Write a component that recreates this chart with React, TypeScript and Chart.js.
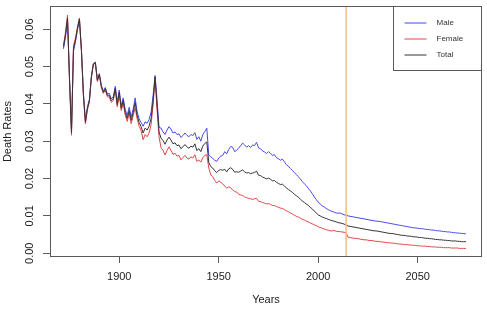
import { useEffect, useRef } from "react";
import { Chart, registerables } from "chart.js";

Chart.register(...registerables);

// ---------- data ----------
const FIRST_YEAR = 1872;
const LAST_YEAR = 2074;
const forecastStartLine = 2014;
const xTicks = [1900, 1950, 2000, 2050];
const yTicks = [0, 0.01, 0.02, 0.03, 0.04, 0.05, 0.06];
const seriesNames = ["Male", "Female", "Total"];

const years: number[] = [];
for (let y = FIRST_YEAR; y <= LAST_YEAR; y++) years.push(y);

const maleRates = [
  0.0548, 0.0580, 0.0622, 0.0470, 0.0330, 0.0540, 0.0566, 0.0598, 0.0624, 0.0545,
  0.0428, 0.0356, 0.0392, 0.0412, 0.0474, 0.0508, 0.0512, 0.0466, 0.0481, 0.0450,
  0.0434, 0.0444, 0.0427, 0.0428, 0.0414, 0.0419, 0.0447, 0.0404, 0.0437, 0.0395,
  0.0416, 0.0385, 0.0369, 0.0391, 0.0365, 0.0386, 0.0416, 0.0378, 0.0360, 0.0350,
  0.0340, 0.0352, 0.0348, 0.0358, 0.0378, 0.0422, 0.0476, 0.0410, 0.0337, 0.0335,
  0.0325, 0.0318, 0.0330, 0.0339, 0.0332, 0.0322, 0.0325, 0.0318, 0.0320, 0.0310,
  0.0315, 0.0322, 0.0316, 0.0312, 0.0318, 0.0315, 0.0323, 0.0305, 0.0312, 0.0300,
  0.0318, 0.0326, 0.0335, 0.0263, 0.0258, 0.0254, 0.0249, 0.0246, 0.0255, 0.0260,
  0.0262, 0.0272, 0.0266, 0.0278, 0.0286, 0.0284, 0.0272, 0.0276, 0.0281, 0.0288,
  0.0295, 0.0290, 0.0284, 0.0288, 0.0283, 0.0290, 0.0288, 0.0297, 0.0282, 0.0280,
  0.0274, 0.0271, 0.0267, 0.0272, 0.0268, 0.0262, 0.0264, 0.0256, 0.0253, 0.0249,
  0.0252, 0.0245, 0.0237, 0.0233, 0.0227, 0.0222, 0.0216, 0.0211, 0.0205, 0.0199,
  0.0192, 0.0186, 0.0181, 0.0174, 0.0167, 0.0160, 0.0151, 0.0144, 0.0137, 0.0132,
  0.0127, 0.0124, 0.0120, 0.0117, 0.0114, 0.0112, 0.0110, 0.0108, 0.0107, 0.0108,
  0.0105, 0.0103, 0.0102,
  0.0100, 0.0099, 0.0098, 0.0097, 0.0096, 0.0095, 0.0094, 0.0093, 0.0092, 0.0091,
  0.0090, 0.0089, 0.0088, 0.0087, 0.0086, 0.0086, 0.0085, 0.0084, 0.0083, 0.0082,
  0.0081, 0.0080, 0.0079, 0.0078, 0.0077, 0.0076, 0.0075, 0.0074, 0.0073, 0.0072,
  0.0071, 0.0070, 0.0069, 0.0068, 0.0068, 0.0067, 0.0066, 0.0066, 0.0065, 0.0064,
  0.0064, 0.0063, 0.0062, 0.0062, 0.0061, 0.0060, 0.0060, 0.0059, 0.0058, 0.0058,
  0.0057, 0.0057, 0.0056, 0.0055, 0.0055, 0.0054, 0.0054, 0.0053, 0.0053, 0.0052,
];

const femaleRates = [
  0.0558, 0.0592, 0.0638, 0.0462, 0.0316, 0.0556, 0.0576, 0.0606, 0.0630, 0.0540,
  0.0420, 0.0346, 0.0384, 0.0405, 0.0470, 0.0506, 0.0508, 0.0460, 0.0476, 0.0444,
  0.0428, 0.0437, 0.0419, 0.0418, 0.0404, 0.0409, 0.0437, 0.0392, 0.0425, 0.0382,
  0.0402, 0.0370, 0.0353, 0.0374, 0.0347, 0.0368, 0.0390, 0.0360, 0.0340, 0.0328,
  0.0304, 0.0318, 0.0312, 0.0322, 0.0344, 0.0396, 0.0468, 0.0384, 0.0312, 0.0282,
  0.0276, 0.0263, 0.0275, 0.0285, 0.0276, 0.0265, 0.0268, 0.0260, 0.0262, 0.0250,
  0.0256, 0.0262, 0.0255, 0.0252, 0.0258, 0.0255, 0.0264, 0.0246, 0.0250, 0.0244,
  0.0256, 0.0262, 0.0264, 0.0228, 0.0210, 0.0205, 0.0195, 0.0188, 0.0194, 0.0190,
  0.0186, 0.0180, 0.0174, 0.0178, 0.0175, 0.0170, 0.0165, 0.0164, 0.0158, 0.0156,
  0.0155, 0.0151, 0.0149, 0.0147, 0.0146, 0.0144, 0.0146, 0.0147, 0.0139, 0.0138,
  0.0136, 0.0134, 0.0132, 0.0133, 0.0131, 0.0128, 0.0128, 0.0125, 0.0123, 0.0121,
  0.0120, 0.0117, 0.0114, 0.0111, 0.0108, 0.0105, 0.0102, 0.0099, 0.0097, 0.0094,
  0.0091, 0.0089, 0.0086, 0.0084, 0.0081, 0.0079, 0.0076, 0.0074, 0.0071, 0.0069,
  0.0067, 0.0065, 0.0063, 0.0062, 0.0060, 0.0060, 0.0061, 0.0059, 0.0058, 0.0058,
  0.0057, 0.0056, 0.0055,
  0.0043, 0.0042, 0.0041, 0.0040, 0.0040, 0.0039, 0.0038, 0.0037, 0.0036, 0.0036,
  0.0035, 0.0034, 0.0034, 0.0033, 0.0032, 0.0032, 0.0031, 0.0030, 0.0030, 0.0029,
  0.0028, 0.0028, 0.0027, 0.0027, 0.0026, 0.0025, 0.0025, 0.0024, 0.0024, 0.0023,
  0.0023, 0.0022, 0.0022, 0.0021, 0.0021, 0.0020, 0.0020, 0.0019, 0.0019, 0.0019,
  0.0018, 0.0018, 0.0017, 0.0017, 0.0017, 0.0016, 0.0016, 0.0016, 0.0015, 0.0015,
  0.0015, 0.0015, 0.0014, 0.0014, 0.0014, 0.0014, 0.0013, 0.0013, 0.0013, 0.0013,
];

const totalRates = [
  0.0553, 0.0586, 0.0630, 0.0466, 0.0323, 0.0548, 0.0571, 0.0602, 0.0627, 0.0543,
  0.0424, 0.0351, 0.0388, 0.0409, 0.0472, 0.0507, 0.0510, 0.0463, 0.0479, 0.0447,
  0.0431, 0.0441, 0.0423, 0.0423, 0.0409, 0.0414, 0.0442, 0.0398, 0.0431, 0.0388,
  0.0409, 0.0377, 0.0361, 0.0382, 0.0356, 0.0377, 0.0404, 0.0369, 0.0350, 0.0339,
  0.0322, 0.0335, 0.0330, 0.0340, 0.0361, 0.0409, 0.0472, 0.0397, 0.0325, 0.0308,
  0.0302, 0.0292, 0.0303, 0.0311, 0.0303, 0.0293, 0.0296, 0.0288, 0.0290, 0.0280,
  0.0285, 0.0291, 0.0285, 0.0281, 0.0287, 0.0284, 0.0293, 0.0275, 0.0280, 0.0272,
  0.0287, 0.0294, 0.0298, 0.0243, 0.0232, 0.0228, 0.0221, 0.0216, 0.0222, 0.0224,
  0.0222, 0.0225, 0.0218, 0.0226, 0.0229, 0.0225, 0.0217, 0.0218, 0.0217, 0.0220,
  0.0223, 0.0218, 0.0215, 0.0216, 0.0213, 0.0215, 0.0216, 0.0220, 0.0209, 0.0208,
  0.0204, 0.0202, 0.0199, 0.0201, 0.0198, 0.0194, 0.0195, 0.0190, 0.0187, 0.0184,
  0.0185, 0.0180, 0.0175, 0.0171, 0.0167, 0.0163, 0.0158, 0.0154, 0.0150, 0.0145,
  0.0140, 0.0136, 0.0132, 0.0128, 0.0123, 0.0119, 0.0113, 0.0108, 0.0103, 0.0100,
  0.0097, 0.0095, 0.0093, 0.0091, 0.0089, 0.0087, 0.0086, 0.0084, 0.0082, 0.0081,
  0.0080, 0.0078, 0.0076,
  0.0073, 0.0072, 0.0071, 0.0070, 0.0069, 0.0068, 0.0067, 0.0066, 0.0065, 0.0064,
  0.0063, 0.0062, 0.0061, 0.0060, 0.0060, 0.0059, 0.0058, 0.0057, 0.0056, 0.0055,
  0.0054, 0.0053, 0.0053, 0.0052, 0.0051, 0.0050, 0.0049, 0.0048, 0.0048, 0.0047,
  0.0046, 0.0046, 0.0045, 0.0044, 0.0044, 0.0043, 0.0042, 0.0042, 0.0041, 0.0040,
  0.0040, 0.0039, 0.0039, 0.0038, 0.0037, 0.0037, 0.0036, 0.0036, 0.0035, 0.0035,
  0.0034, 0.0034, 0.0033, 0.0033, 0.0033, 0.0032, 0.0032, 0.0031, 0.0031, 0.0031,
];

// ---------- styles ----------
const FONT = "'Liberation Sans', Arial, Helvetica, sans-serif";
const COLORS = ["#4848ee", "#e24646", "#333333"];
const AXIS_COLOR = "#5a5a5a";
const TEXT_COLOR = "#222222";

const forecastLinePlugin = {
  id: "forecastLine",
  afterDatasetsDraw(chart: any) {
    const { ctx, chartArea: a, scales } = chart;
    const x = scales.x.getPixelForValue(forecastStartLine);
    ctx.save();
    ctx.strokeStyle = "#f4c074";
    ctx.lineWidth = 1.5;
    ctx.beginPath();
    ctx.moveTo(x, a.top);
    ctx.lineTo(x, a.bottom);
    ctx.stroke();
    ctx.restore();
  },
};

const framePlugin = {
  id: "frame",
  afterDraw(chart: any) {
    const { ctx, chartArea: a } = chart;
    ctx.save();
    ctx.strokeStyle = AXIS_COLOR;
    ctx.lineWidth = 1;
    const l = Math.round(a.left) + 0.5;
    const t = Math.round(a.top) + 0.5;
    const r = Math.round(a.right) - 0.5;
    const b = Math.round(a.bottom) - 0.5;
    ctx.strokeRect(l, t, r - l, b - t);

    // legend box (top-right, inside plot region)
    const boxW = 89;
    const boxH = 64;
    const bl = Math.round(a.right - boxW) + 0.5;
    ctx.fillStyle = "#ffffff";
    ctx.fillRect(bl, t, r - bl, boxH);
    ctx.strokeRect(bl, t, r - bl, boxH);
    ctx.font = `8px ${FONT}`;
    ctx.textBaseline = "middle";
    ctx.textAlign = "left";
    const rowY = [17, 33, 48.5];
    seriesNames.forEach((name, i) => {
      const y = Math.round(a.top + rowY[i]);
      ctx.lineWidth = 1;
      ctx.strokeStyle = COLORS[i];
      ctx.beginPath();
      ctx.moveTo(bl + 11, y);
      ctx.lineTo(bl + 33, y);
      ctx.stroke();
      ctx.fillStyle = "#333333";
      ctx.fillText(name, bl + 43, y);
    });
    ctx.restore();
  },
};

export default function App() {
  const ref = useRef<HTMLCanvasElement | null>(null);

  useEffect(() => {
    const canvas = ref.current;
    if (!canvas) return;
    const series = [maleRates, femaleRates, totalRates];
    const chart = new Chart(canvas, {
      type: "line",
      data: {
        datasets: series.map((vals, i) => ({
          label: seriesNames[i],
          data: years.map((x, j) => ({ x, y: vals[j] })),
          borderColor: COLORS[i],
          backgroundColor: COLORS[i],
          borderWidth: 1,
          pointRadius: 0,
          borderJoinStyle: "round",
          borderCapStyle: "round",
          tension: 0,
          fill: false,
          order: 2 - i,
        })),
      },
      options: {
        animation: false,
        responsive: false,
        devicePixelRatio: 1,
        events: [],
        layout: { padding: { left: 0, top: 6, right: 5, bottom: 0 } },
        plugins: {
          legend: { display: false },
          tooltip: { enabled: false },
        },
        scales: {
          x: {
            type: "linear",
            min: 1865.2,
            max: 2082.3,
            afterBuildTicks: (s: any) => {
              s.ticks = xTicks.map((v) => ({ value: v }));
            },
            afterFit: (s: any) => {
              s.height = 57;
              s.paddingLeft = 0;
              s.paddingRight = 0;
            },
            grid: {
              drawOnChartArea: false,
              drawTicks: true,
              tickLength: 6,
              color: AXIS_COLOR,
            },
            border: { display: false },
            ticks: {
              padding: 7,
              color: TEXT_COLOR,
              autoSkip: false,
              maxRotation: 0,
              font: { family: FONT, size: 11 },
              callback: (v: any) => String(v),
            },
            title: {
              display: true,
              text: "Years",
              color: TEXT_COLOR,
              font: { family: FONT, size: 11 },
              padding: { top: 0, bottom: 7 },
            },
          },
          y: {
            type: "linear",
            min: -0.001,
            max: 0.0662,
            afterBuildTicks: (s: any) => {
              s.ticks = yTicks.map((v) => ({ value: v }));
            },
            afterFit: (s: any) => {
              s.width = 50;
              s.paddingTop = 0;
              s.paddingBottom = 0;
            },
            grid: {
              drawOnChartArea: false,
              drawTicks: true,
              tickLength: 7,
              color: AXIS_COLOR,
            },
            border: { display: false },
            ticks: {
              padding: 2,
              minRotation: 90,
              maxRotation: 90,
              crossAlign: "center",
              color: TEXT_COLOR,
              autoSkip: false,
              font: { family: FONT, size: 11 },
              callback: (v: any) => Number(v).toFixed(2),
            },
            title: {
              display: true,
              text: "Death Rates",
              color: TEXT_COLOR,
              font: { family: FONT, size: 11 },
              padding: { top: 1, bottom: 0 },
            },
          },
        },
      } as any,
      plugins: [forecastLinePlugin, framePlugin],
    });
    return () => chart.destroy();
  }, []);

  return (
    <div
      style={{
        position: "fixed",
        left: 0,
        top: 0,
        width: 487,
        height: 314,
        background: "#ffffff",
      }}
    >
      <canvas
        ref={ref}
        width={487}
        height={314}
        style={{ display: "block", width: 487, height: 314 }}
      />
    </div>
  );
}
